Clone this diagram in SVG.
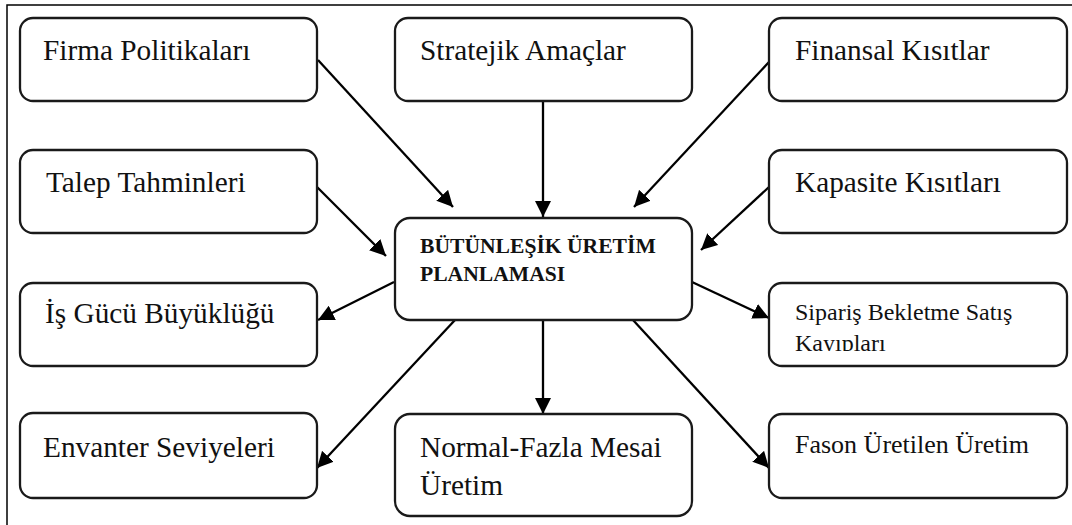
<svg xmlns="http://www.w3.org/2000/svg" width="1072" height="525" viewBox="0 0 1072 525">
<style>
.box{fill:#fff;stroke:#1a1a1a;stroke-width:2.3}
.t{font-family:"Liberation Serif","Times New Roman",serif;font-size:29.3px;fill:#111}
.ts{font-family:"Liberation Serif","Times New Roman",serif;fill:#111}
.tb{font-family:"Liberation Serif","Times New Roman",serif;font-size:21.6px;font-weight:bold;fill:#111}
.c{stroke:#000;stroke-width:2.3;fill:none;marker-end:url(#ah)}
</style>
<defs>
<marker id="ah" viewBox="0 0 16 16" refX="16" refY="8" markerWidth="16" markerHeight="16" markerUnits="userSpaceOnUse" orient="auto">
<path d="M0,0 L16,8 L0,16 z" fill="#000"/>
</marker>
<clipPath id="clipSip"><rect x="769" y="283" width="298" height="68"/></clipPath>
</defs>
<rect x="0" y="0" width="1072" height="525" fill="#fff"/>
<path d="M7,525 V5 H1072" fill="none" stroke="#000" stroke-width="1.5"/>

<g id="connectors">
<line class="c" x1="318" y1="60" x2="453" y2="207"/>
<line class="c" x1="543" y1="101" x2="543" y2="217"/>
<line class="c" x1="769" y1="62" x2="634" y2="207"/>
<line class="c" x1="317" y1="187" x2="386" y2="256"/>
<line class="c" x1="769" y1="187" x2="701" y2="250"/>
<line class="c" x1="394" y1="282" x2="318" y2="320"/>
<line class="c" x1="692" y1="282" x2="769" y2="318"/>
<line class="c" x1="455" y1="320" x2="317" y2="468"/>
<line class="c" x1="543" y1="320" x2="543" y2="414"/>
<line class="c" x1="633" y1="320" x2="769" y2="468"/>
</g>

<g id="firma"><rect class="box" x="20" y="18" width="297" height="83" rx="13"/><text class="t" x="43" y="60">Firma Politikaları</text></g>
<g id="stratejik"><rect class="box" x="395" y="18" width="297" height="83" rx="13"/><text class="t" x="420" y="60">Stratejik Amaçlar</text></g>
<g id="finansal"><rect class="box" x="769" y="18" width="298" height="83" rx="13"/><text class="t" x="795" y="60">Finansal Kısıtlar</text></g>
<g id="talep"><rect class="box" x="20" y="150" width="297" height="83" rx="13"/><text class="t" x="46" y="192">Talep Tahminleri</text></g>
<g id="kapasite"><rect class="box" x="769" y="150" width="298" height="83" rx="13"/><text class="t" x="795" y="192">Kapasite Kısıtları</text></g>
<g id="merkez"><rect class="box" x="395" y="218" width="297" height="102" rx="15"/><text class="tb" x="420" y="253">BÜTÜNLEŞİK ÜRETİM</text><text class="tb" x="420" y="281">PLANLAMASI</text></g>
<g id="isgucu"><rect class="box" x="20" y="283" width="297" height="83" rx="13"/><text class="t" x="45" y="323">İş Gücü Büyüklüğü</text></g>
<g id="siparis"><rect class="box" x="769" y="283" width="298" height="83" rx="13"/><text class="ts" x="795" y="320" font-size="24">Sipariş Bekletme Satış</text><text class="ts" x="795" y="350.5" font-size="24" clip-path="url(#clipSip)">Kayıpları</text></g>
<g id="envanter"><rect class="box" x="20" y="413" width="297" height="85" rx="13"/><text class="t" x="43" y="457">Envanter Seviyeleri</text></g>
<g id="normal"><rect class="box" x="395" y="414" width="297" height="102" rx="15"/><text class="t" x="420" y="457">Normal-Fazla Mesai</text><text class="t" x="420" y="495">Üretim</text></g>
<g id="fason"><rect class="box" x="769" y="414" width="298" height="84" rx="13"/><text class="ts" x="795" y="453" font-size="26">Fason Üretilen Üretim</text></g>
</svg>
